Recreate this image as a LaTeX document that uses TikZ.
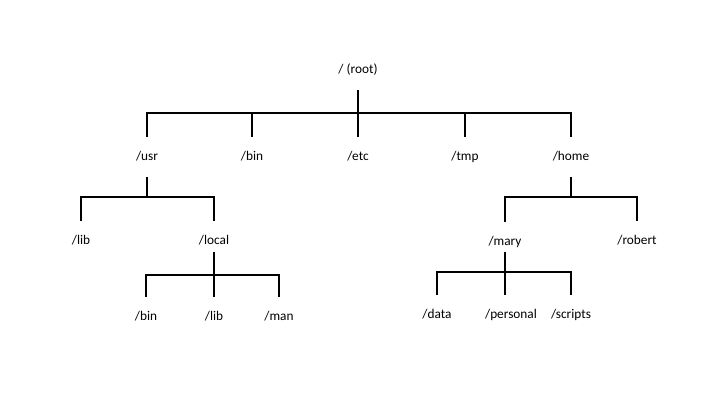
\documentclass[tikz,border=0pt]{standalone}
\usepackage{fontspec}
\setmainfont{Carlito}
\begin{document}
\begin{tikzpicture}[x=1pt, y=-1pt,
	dir/.style={font=\fontsize{13.3}{16}\selectfont, inner sep=0pt, text height=9pt, text depth=3pt, minimum height=40pt},
	tree/.style={line width=1.6pt}]
	\useasboundingbox (0,0) rectangle (720,405);

	% root
	\node[dir] (root) at (358,70) {/ (root)};
	% first level
	\node[dir] (usr) at (147,157) {/usr};
	\node[dir] (bin) at (252,157) {/bin};
	\node[dir] (etc) at (358,157) {/etc};
	\node[dir] (tmp) at (465,157) {/tmp};
	\node[dir] (home) at (571,157) {/home};
	% below /usr
	\node[dir] (lib) at (81,241) {/lib};
	\node[dir] (local) at (214,241) {/local};
	\node[dir] (localbin) at (146,317) {/bin};
	\node[dir] (locallib) at (214,317) {/lib};
	\node[dir] (localman) at (279,317) {/man};
	% below /home
	\node[dir] (mary) at (505,242) {/mary};
	\node[dir] (robert) at (637,241) {/robert};
	\node[dir] (data) at (437,315) {/data};
	\node[dir] (personal) at (511,315) {/personal};
	\node[dir] (scripts) at (571,315) {/scripts};

	% junctions
	\coordinate (rootbar) at (358,113);
	\coordinate (usrbar) at (147,197);
	\coordinate (homebar) at (571,197);
	\coordinate (localbar) at (214,275);
	\coordinate (marybar) at (505,272);

	% root -> first level
	\draw[tree] (root.south) -- (rootbar);
	\draw[tree] (usr.north) |- (rootbar) -| (home.north);
	\foreach \d in {bin,etc,tmp}
		\draw[tree] (\d.north) -- (\d.north |- rootbar);
	% /usr
	\draw[tree] (usr.south) -- (usrbar);
	\draw[tree] (lib.north) |- (usrbar) -| (local.north);
	% /usr/local
	\draw[tree] ([yshift=-11pt]local.center) -- (localbar);
	\draw[tree] (localbin.north) |- (localbar) -| (localman.north);
	\draw[tree] (locallib.north) -- (localbar);
	% /home
	\draw[tree] (home.south) -- (homebar);
	\draw[tree] (mary.north) |- (homebar) -| (robert.north);
	% /home/mary
	\draw[tree] ([yshift=-10pt]mary.center) -- (marybar);
	\draw[tree] (data.north) |- (marybar) -| (scripts.north);
	\draw[tree] (mary.south |- personal.north) -- (marybar);
\end{tikzpicture}
\end{document}
